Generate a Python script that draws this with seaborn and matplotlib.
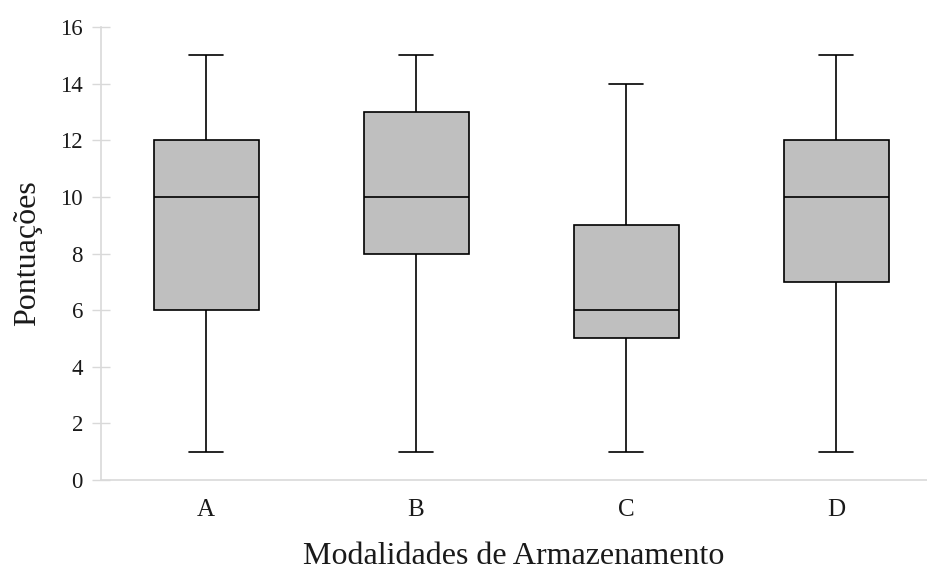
import numpy as np
import pandas as pd
import matplotlib
matplotlib.use('Agg')
import matplotlib.pyplot as plt
import seaborn as sb

# five-number summary per group
categorias = ['A', 'B', 'C', 'D']
minimo = [1, 1, 1, 1]
q1 = [6, 8, 5, 7]
mediana = [10, 10, 6, 10]
q3 = [12, 13, 9, 12]
maximo = [15, 15, 14, 15]

# one row per summary value so the quartiles come out as read
linhas = []
for i, c in enumerate(categorias):
    for v in (minimo[i], q1[i], mediana[i], q3[i], maximo[i]):
        linhas.append({'Modalidade': c, 'Pontuacao': v})
df = pd.DataFrame(linhas)

sb.set_style('white')
plt.rcParams['font.family'] = ['Liberation Serif', 'DejaVu Serif']

fig = plt.figure(figsize=(9.27, 5.72), dpi=100)
ax = fig.add_axes([101 / 927, 92 / 572, 826 / 927, 453 / 572])

sb.boxplot(data=df, x='Modalidade', y='Pontuacao', order=categorias, ax=ax,
           whis=(0, 100), width=0.5, color='#bfbfbf', saturation=1,
           linecolor='black', linewidth=1.2, capwidths=0.16)
for p in ax.patches:
    p.set_facecolor('#bfbfbf')

ax.set_xlim(-0.5, -0.5 + 826 / 210)
ax.set_ylim(0, 16)
ax.set_yticks(range(0, 17, 2))
ax.set_ylabel('Pontuações', fontsize=23, color='#1a1a1a')
ax.set_xlabel('Modalidades de Armazenamento', fontsize=23, color='#1a1a1a',
              va='bottom')
ax.yaxis.set_label_coords(-0.071, 0.5)
ax.xaxis.set_label_coords(0.5, -91 / 453)
ax.tick_params(axis='y', which='both', direction='inout', length=13, width=1,
               color='#d9d9d9', labelsize=16.5, labelcolor='#1a1a1a', pad=6.5, left=True)
ax.tick_params(axis='x', length=0, labelsize=18, labelcolor='#1a1a1a', pad=14)
for s in ['top', 'right']:
    ax.spines[s].set_visible(False)
for s in ['left', 'bottom']:
    ax.spines[s].set_color('#d9d9d9')
    ax.spines[s].set_linewidth(1.2)
ax.grid(False)

fig.savefig('out.png', dpi=100)
